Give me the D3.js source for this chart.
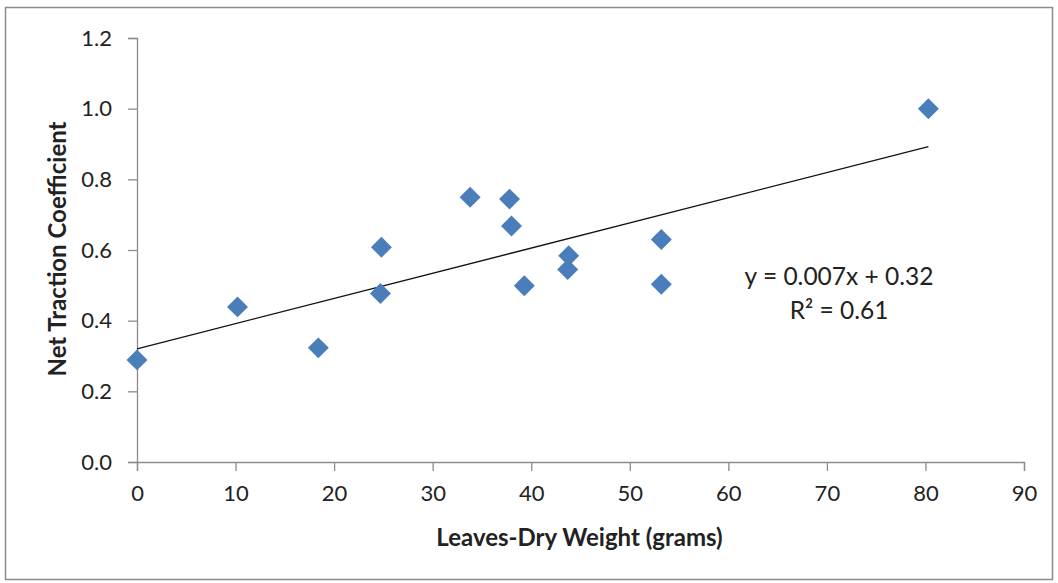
<!DOCTYPE html>
<html>
<head>
<meta charset="UTF-8">
<title>Net Traction vs Leaves-Dry Weight</title>
<script src="https://d3js.org/d3.v7.min.js"></script>
<style>
	body { margin: 0; background: #fff; }
	text { font-family: Lato, "Open Sans", sans-serif; fill: #222; }
</style>
</head>
<body>
	<div id="chart"></div>
	<script type="text/javascript">
		// leaves dry weight (g) and net traction coefficient
		let weights  = [0, 10.2, 18.4, 24.8, 24.7, 33.8, 37.8, 38.0, 39.3, 43.8, 43.7, 53.2, 53.2, 80.3];
		let traction = [0.289, 0.439, 0.323, 0.608, 0.477, 0.749, 0.744, 0.668, 0.499, 0.584, 0.545, 0.630, 0.503, 1.0];
		let xTicks = [0, 10, 20, 30, 40, 50, 60, 70, 80, 90];
		let yTicks = [0, 0.2, 0.4, 0.6, 0.8, 1.0, 1.2];
		let eqLabel = "y = 0.007x + 0.32";
		let r2Label = "R\u00b2 = 0.61";

		let width = 1058, height = 583;
		let margin = {left: 137, right: 35, top: 38, bottom: 121};

		let svg = d3.select("#chart")
			.append("svg")
			.attr("width", width)
			.attr("height", height);

		// outer frame
		svg.append("rect")
			.attr("x", 5.5).attr("y", 7.5)
			.attr("width", 1047).attr("height", 572)
			.attr("fill", "none")
			.attr("stroke", "#8c8c8c")
			.attr("stroke-width", 1.5);

		let x = d3.scaleLinear().domain([0, 90]).range([margin.left, width - margin.right + 1]);
		let y = d3.scaleLinear().domain([0, 1.2]).range([height - margin.bottom, margin.top]);

		let xAxis = svg.append("g")
			.attr("transform", `translate(0,${y(0)})`)
			.call(d3.axisBottom(x).tickValues(xTicks).tickSize(9).tickPadding(14).tickFormat(d3.format("d")));
		let yAxis = svg.append("g")
			.attr("transform", `translate(${x(0)},0)`)
			.call(d3.axisLeft(y).tickValues(yTicks).tickSize(9).tickPadding(16).tickFormat(d3.format(".1f")));

		[xAxis, yAxis].forEach(a => {
			a.select(".domain").attr("stroke", "#8c8c8c").attr("stroke-width", 1.3);
			a.selectAll(".tick line").attr("stroke", "#8c8c8c").attr("stroke-width", 1.3);
			a.selectAll(".tick text").style("font-size", "22px").attr("fill", "#222");
		});

		// linear trend, least squares on the points
		let mx = d3.mean(weights), my = d3.mean(traction);
		let sxy = d3.sum(weights, (w, i) => (w - mx) * (traction[i] - my));
		let sxx = d3.sum(weights, w => (w - mx) * (w - mx));
		let slope = sxy / sxx, icpt = my - slope * mx;
		let trendX = [0, d3.max(weights)];

		svg.append("path")
			.datum(trendX)
			.attr("fill", "none")
			.attr("stroke", "#111")
			.attr("stroke-width", 1.3)
			.attr("d", d3.line().x(d => x(d)).y(d => y(icpt + slope * d)));

		svg.append("g")
			.selectAll("path")
			.data(weights)
			.join("path")
			.attr("transform", (d, i) => `translate(${x(d)},${y(traction[i])}) rotate(45)`)
			.attr("d", d3.symbol(d3.symbolSquare, 220))
			.attr("fill", "#4a7ebb");

		svg.append("text")
			.attr("x", 839).attr("y", 285)
			.attr("text-anchor", "middle")
			.style("font-size", "24.5px")
			.text(eqLabel);
		svg.append("text")
			.attr("x", 839).attr("y", 319)
			.attr("text-anchor", "middle")
			.style("font-size", "24.5px")
			.text(r2Label);

		svg.append("text")
			.attr("x", (x(0) + x(90)) / 2 - 1).attr("y", 546)
			.attr("text-anchor", "middle")
			.style("font-size", "24px").style("font-weight", "bold")
			.text("Leaves-Dry Weight (grams)");
		svg.append("text")
			.attr("transform", `translate(66,${y(0.6) - 1}) rotate(-90)`)
			.attr("text-anchor", "middle")
			.style("font-size", "24px").style("font-weight", "bold")
			.text("Net Traction Coefficient");
	</script>
</body>
</html>
